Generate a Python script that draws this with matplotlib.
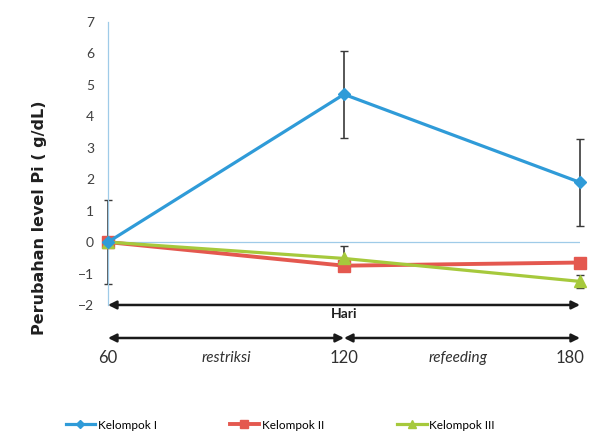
import matplotlib
matplotlib.use("Agg")
import matplotlib.pyplot as plt

# days and group means
hari = [60, 120, 180]
kelompok_1 = [0.0, 4.7, 1.9]
kelompok_2 = [0.0, -0.75, -0.65]
kelompok_3 = [0.0, -0.52, -1.25]
err_1 = [1.33, 1.38, 1.38]
err_3 = [0.0, 0.4, 0.2]
labels = ["Kelompok I", "Kelompok II", "Kelompok III"]
yticks = [-2, -1, 0, 1, 2, 3, 4, 5, 6, 7]

plt.rcParams['font.family'] = ['Lato', 'DejaVu Sans']

fig = plt.figure(figsize=(5.92, 4.36), dpi=100)
ax = fig.add_axes([0.1824, 0.3005, 0.7973, 0.649])
ax.set_xlim(60, 180)
ax.set_ylim(-2, 7)

ec = "#3a3a3a"
ax.errorbar(hari, kelompok_1, yerr=err_1, fmt="none", ecolor=ec, elinewidth=1.2,
            capsize=3, zorder=2, clip_on=False)
ax.errorbar(hari, kelompok_3, yerr=err_3, fmt="none", ecolor=ec, elinewidth=1.2,
            capsize=3, zorder=2, clip_on=False)

ax.plot(hari, kelompok_1, color="#2f9bd8", lw=2.3, marker="D", ms=6, label=labels[0],
        zorder=4, clip_on=False)
ax.plot(hari, kelompok_2, color="#e4584f", lw=2.8, marker="s", ms=9, label=labels[1],
        zorder=3, clip_on=False)
ax.plot(hari, kelompok_3, color="#a6c93c", lw=2.3, marker="^", ms=8, label=labels[2],
        zorder=3, clip_on=False)

ax.axhline(0, color="#9fcbe8", lw=0.9, zorder=1)
for s in ["top", "right", "bottom"]:
    ax.spines[s].set_visible(False)
ax.spines["left"].set_color("#9fcbe8")
ax.spines["left"].set_linewidth(0.9)
ax.set_xticks([])
ax.set_yticks(yticks)
ax.tick_params(axis="y", length=0, pad=10, labelsize=10, labelcolor="#404040")

ax.set_ylabel("Perubahan level Pi ( g/dL)", fontsize=11.5, fontweight="bold",
              color="#202020", family=["DejaVu Sans"])
ax.yaxis.set_label_coords(-0.13, 0.31)

# arrows under the plot
arr = dict(arrowstyle="<|-|>", color="#1a1a1a", lw=1.8, mutation_scale=12,
           shrinkA=0, shrinkB=0)
ax.annotate("", xy=(60, -2), xytext=(180, -2), arrowprops=arr, annotation_clip=False)
ax.text(120, -2.3, "Hari", ha="center", va="center", fontsize=10, fontweight="bold",
        color="#202020")
ax.annotate("", xy=(60, -3.05), xytext=(120, -3.05), arrowprops=arr, annotation_clip=False)
ax.annotate("", xy=(120, -3.05), xytext=(180, -3.05), arrowprops=arr, annotation_clip=False)

for x, t in zip([60, 120, 177.5], ["60", "120", "180"]):
    ax.text(x, -3.7, t, ha="center", va="center", fontsize=12, color="#303030")
ax.text(90, -3.7, "restriksi", ha="center", va="center", fontsize=11, style="italic",
        color="#303030")
ax.text(149, -3.7, "refeeding", ha="center", va="center", fontsize=11, style="italic",
        color="#303030")

fig.legend(loc="lower center", bbox_to_anchor=(0.473, -0.012), ncol=3, frameon=False,
           fontsize=8.5, columnspacing=6.2, handlelength=2.5, handletextpad=0.2,
           markerscale=0.7)

fig.savefig("out.png", dpi=100)
